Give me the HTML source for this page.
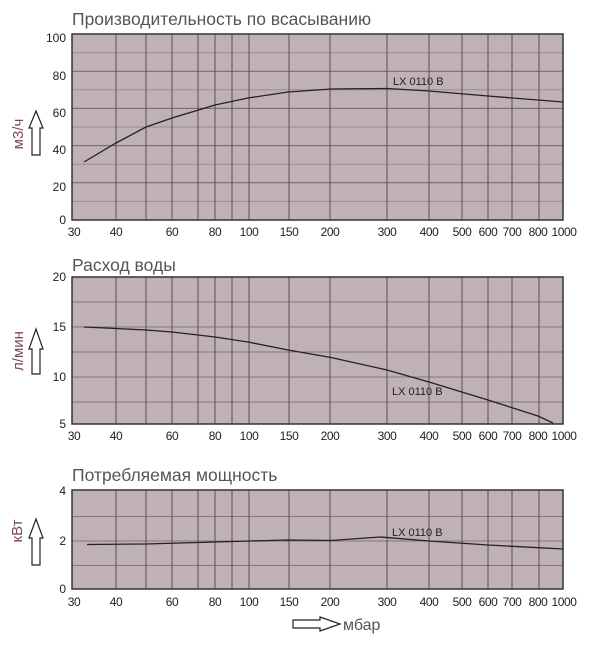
<!DOCTYPE html>
<html><head><meta charset="utf-8"><style>
body{margin:0;background:#fff;width:603px;height:650px;overflow:hidden}
svg{display:block;font-family:"Liberation Sans",sans-serif}
</style></head><body>
<svg width="603" height="650" viewBox="0 0 603 650">
<g font-size="17.5" fill="#555">
<text x="72" y="25">Производительность по всасыванию</text>
<text x="72" y="271">Расход воды</text>
<text x="72" y="481">Потребляемая мощность</text>
</g>
<!-- chart 1 -->
<rect x="72" y="34" width="491" height="186" fill="#c0b1b4"/>
<g stroke="#9c8d92" stroke-width="1">
<path d="M72 52.6H563M72 71.2H563M72 89.8H563M72 108.4H563M72 127H563M72 145.6H563M72 164.2H563M72 182.8H563M72 201.4H563"/>
</g>
<g stroke="#5d4d54" stroke-width="1">
<path d="M116 34V220M146 34V220M172 34V220M198 34V220M215 34V220M232 34V220M249 34V220M289 34V220M330 34V220M387 34V220M429 34V220M462 34V220M488 34V220M512 34V220M539 34V220"/>
<path d="M72 71.2H563M72 108.4H563M72 145.6H563M72 182.8H563" stroke-opacity=".6"/>
</g>
<path d="M72 34H563V220H72Z" fill="none" stroke="#333" stroke-width="1.5"/>
<path d="M84 162L116 143L146 127L172 118L215 105L248 98L288 92L331 89L387 88.5L429 91L488 96L563 102" fill="none" stroke="#222" stroke-width="1.3"/>
<text x="393" y="85" font-size="11" fill="#222">LX 0110 B</text>
<g font-size="12" fill="#222" text-anchor="end">
<text x="66" y="42">100</text><text x="66" y="80">80</text><text x="66" y="117">60</text><text x="66" y="154">40</text><text x="66" y="191">20</text><text x="66" y="224">0</text>
</g>
<!-- chart 2 -->
<rect x="72" y="277" width="491" height="147" fill="#c0b1b4"/>
<g stroke="#5d4d54" stroke-width="1">
<path d="M72 302H563M72 327H563M72 352H563M72 377H563M72 402H563" stroke-opacity=".6"/>
<path d="M116 277V424M146 277V424M172 277V424M198 277V424M215 277V424M232 277V424M249 277V424M289 277V424M330 277V424M387 277V424M429 277V424M462 277V424M488 277V424M512 277V424M539 277V424"/>
</g>
<path d="M72 277H563V424H72Z" fill="none" stroke="#333" stroke-width="1.5"/>
<path d="M84 327L116 328.5L146 330L172 332L215 337L248 342L288 350L331 357.5L387 370L429 382L488 400L538 416L553 423" fill="none" stroke="#222" stroke-width="1.3"/>
<text x="392" y="395" font-size="11" fill="#222">LX 0110 B</text>
<g font-size="12" fill="#222" text-anchor="end">
<text x="66" y="281">20</text><text x="66" y="331">15</text><text x="66" y="381">10</text><text x="66" y="428">5</text>
</g>
<!-- chart 3 -->
<rect x="72" y="490" width="491" height="99" fill="#c0b1b4"/>
<g stroke="#5d4d54" stroke-width="1">
<path d="M72 516.5H563M72 541H563M72 565.5H563" stroke-opacity=".6"/>
<path d="M116 490V589M146 490V589M172 490V589M198 490V589M215 490V589M232 490V589M249 490V589M289 490V589M330 490V589M387 490V589M429 490V589M462 490V589M488 490V589M512 490V589M539 490V589"/>
</g>
<path d="M72 490H563V589H72Z" fill="none" stroke="#333" stroke-width="1.5"/>
<path d="M87 544.5L146 544L215 542L288 540L331 540.5L380 537L429 541L488 545L563 549" fill="none" stroke="#222" stroke-width="1.3"/>
<text x="392" y="536" font-size="11" fill="#222">LX 0110 B</text>
<g font-size="12" fill="#222" text-anchor="end">
<text x="66" y="495">4</text><text x="66" y="545">2</text><text x="66" y="593">0</text>
</g>
<!-- x labels -->
<g font-size="12" fill="#222" text-anchor="middle" letter-spacing="-0.4">
<g id="xl">
<text x="74" y="236">30</text><text x="116" y="236">40</text><text x="172" y="236">60</text><text x="215" y="236">80</text><text x="249" y="236">100</text><text x="289" y="236">150</text><text x="330" y="236">200</text><text x="387" y="236">300</text><text x="429" y="236">400</text><text x="462" y="236">500</text><text x="488" y="236">600</text><text x="512" y="236">700</text><text x="538" y="236">800</text><text x="564" y="236">1000</text>
</g>
<use href="#xl" y="204"/>
<use href="#xl" y="370"/>
</g>
<!-- y axis labels and arrows -->
<g fill="#7a4a5e" font-size="15">
<text transform="translate(23,134) rotate(-90)" text-anchor="middle">м3/ч</text>
<text transform="translate(23,351) rotate(-90)" text-anchor="middle">л/мин</text>
<text transform="translate(22,531) rotate(-90)" text-anchor="middle">кВт</text>
</g>
<g fill="#fff" stroke="#222" stroke-width="1.2">
<path d="M32 155V128H29L36 111L43 128H40V155Z"/>
<path d="M32 374V349H29L36 329L43 349H40V374Z"/>
<path d="M32 565V538H29L36 519L43 538H40V565Z"/>
<path d="M293 620H320V617L340 624L320 631V628H293Z"/>
</g>
<text x="343" y="630" font-size="16" fill="#555">мбар</text>
</svg>
</body></html>
